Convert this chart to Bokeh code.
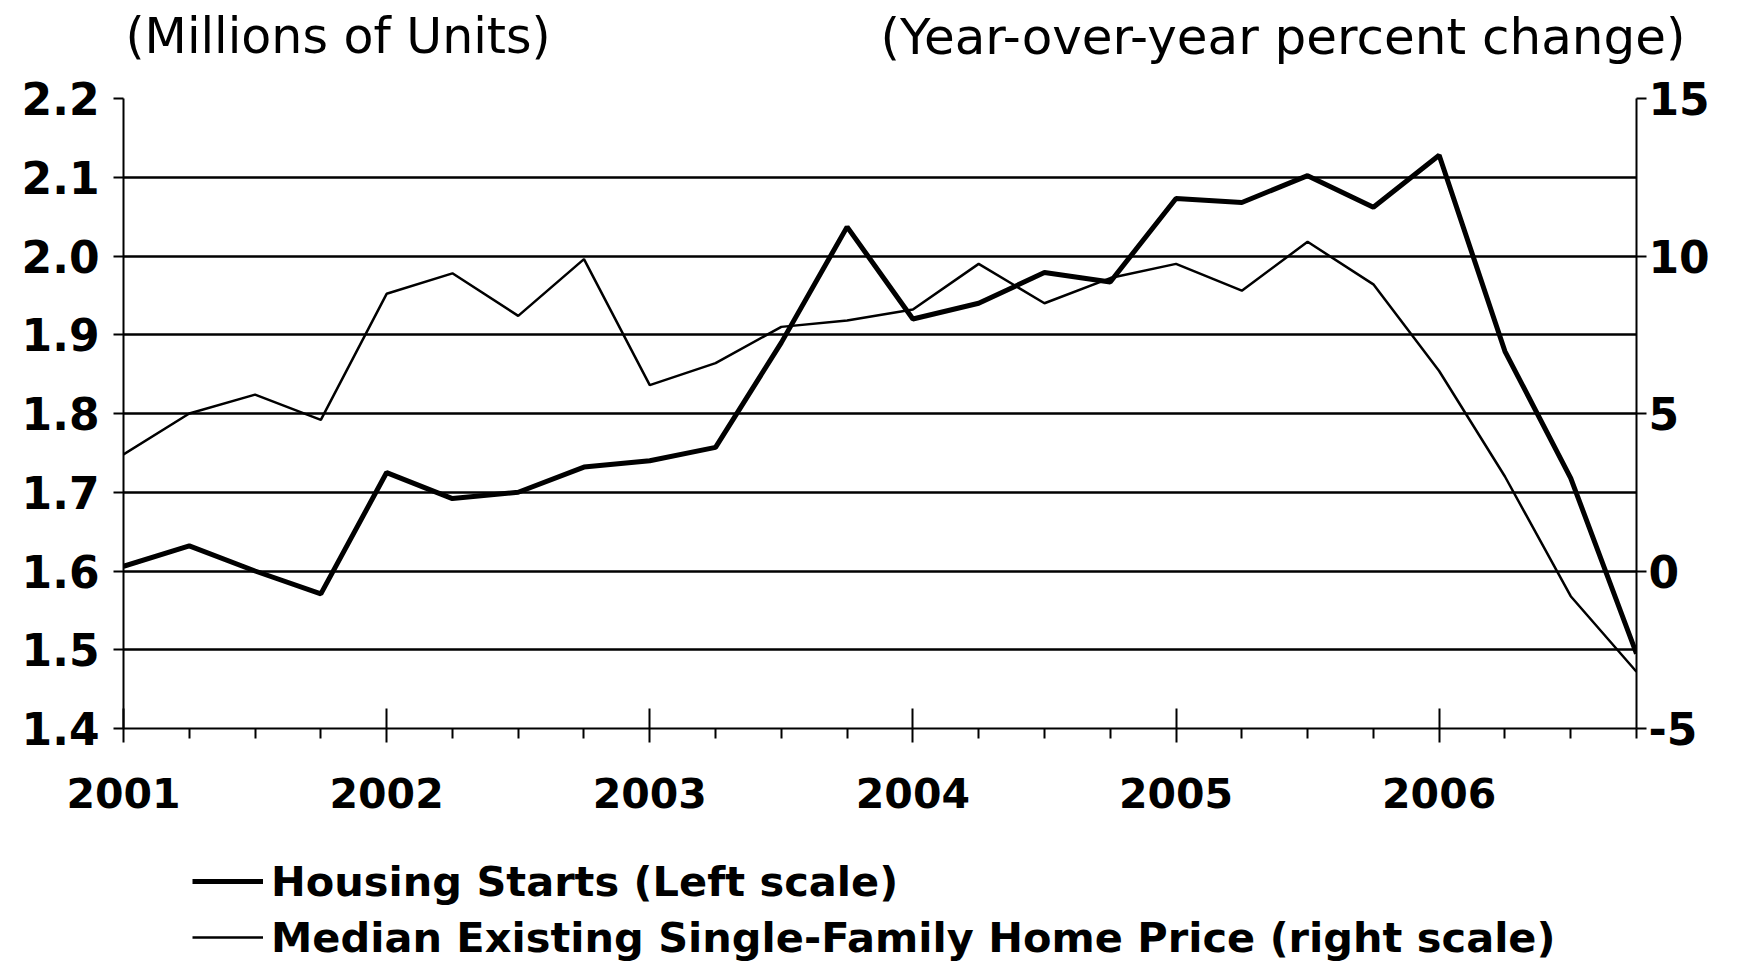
from bokeh.plotting import figure
from bokeh.layouts import column
from bokeh.models import (Range1d, LinearAxis, FixedTicker, PrintfTickFormatter,
                          Label, Legend, LegendItem)
from bokeh.embed import file_html
from bokeh.resources import INLINE

# Quarterly observations, 2001Q1 .. 2006Q4 (decimal years)
quarters = [2001.00, 2001.25, 2001.50, 2001.75,
            2002.00, 2002.25, 2002.50, 2002.75,
            2003.00, 2003.25, 2003.50, 2003.75,
            2004.00, 2004.25, 2004.50, 2004.75,
            2005.00, 2005.25, 2005.50, 2005.75,
            2006.00, 2006.25, 2006.50, 2006.75]

# Housing starts, millions of units (left scale)
housing_starts = [1.606, 1.632, 1.600, 1.571,
                  1.725, 1.692, 1.700, 1.732,
                  1.740, 1.757, 1.890, 2.037,
                  1.920, 1.940, 1.979, 1.967,
                  2.073, 2.068, 2.102, 2.062,
                  2.128, 1.879, 1.718, 1.495]

# Median existing single-family home price, y/y % change (right scale)
price_change = [3.7, 5.0, 5.6, 4.8,
                8.8, 9.45, 8.1, 9.9,
                5.9, 6.6, 7.75, 7.95,
                8.3, 9.75, 8.5, 9.3,
                9.75, 8.9, 10.45, 9.1,
                6.35, 3.0, -0.8, -3.2]

year_ticks = [2001, 2002, 2003, 2004, 2005, 2006]
quarter_ticks = [2001.25, 2001.5, 2001.75, 2002.25, 2002.5, 2002.75,
                 2003.25, 2003.5, 2003.75, 2004.25, 2004.5, 2004.75,
                 2005.25, 2005.5, 2005.75, 2006.25, 2006.5, 2006.75]
left_ticks = [1.4, 1.5, 1.6, 1.7, 1.8, 1.9, 2.0, 2.1, 2.2]
right_ticks = [-5, 0, 5, 10, 15]

left_title = "(Millions of Units)"
right_title = "(Year-over-year percent change)"
legend_labels = ["Housing Starts (Left scale)",
                 "Median Existing Single-Family Home Price (right scale)"]

FONT = "DejaVu Sans"
W = 1740
HEAD_H = 68
TOP = 30
MAIN_H = TOP + 630 + 100
FOOT_H = 963 - HEAD_H - MAIN_H


def blank(height):
    f = figure(width=W, height=height, x_range=Range1d(0, W), y_range=Range1d(0, height),
               x_axis_type=None, y_axis_type=None, output_backend="svg",
               toolbar_location=None, min_border=0, frame_align=False)
    f.outline_line_color = None
    f.grid.visible = False
    f.background_fill_color = "white"
    f.border_fill_color = "white"
    return f


# ---------- header strip with the two unit titles ----------
head = blank(HEAD_H)
head.add_layout(Label(x=125, y=HEAD_H - 36, text=left_title, text_font=FONT,
                      text_font_size="49px", text_align="left",
                      text_baseline="middle", text_color="black"))
head.add_layout(Label(x=1685, y=HEAD_H - 36, text=right_title, text_font=FONT,
                      text_font_size="50px", text_align="right",
                      text_baseline="middle", text_color="black"))

# ---------- main chart ----------
p = figure(width=W, height=MAIN_H,
           x_range=Range1d(2001, 2006.75), y_range=Range1d(1.4, 2.2),
           output_backend="svg", toolbar_location=None, frame_align=False,
           min_border_left=123, min_border_right=W - 1636,
           min_border_top=TOP, min_border_bottom=MAIN_H - TOP - 630)
p.background_fill_color = "white"
p.border_fill_color = "white"
p.outline_line_color = None

p.extra_y_ranges = {"pct": Range1d(-5, 15)}

xa = p.xaxis[0]
xa.ticker = FixedTicker(ticks=year_ticks, minor_ticks=quarter_ticks)
xa.axis_line_width = 2
xa.axis_line_color = "black"
xa.major_tick_in = 20
xa.major_tick_out = 14
xa.minor_tick_in = 0
xa.minor_tick_out = 10
xa.major_tick_line_width = 2
xa.minor_tick_line_width = 2
xa.major_tick_line_color = "black"
xa.minor_tick_line_color = "black"
xa.major_label_text_font = FONT
xa.major_label_text_font_style = "bold"
xa.major_label_text_font_size = "41px"
xa.major_label_text_color = "black"
xa.major_label_standoff = 35

ya = p.yaxis[0]
ya.ticker = FixedTicker(ticks=left_ticks)
ya.formatter = PrintfTickFormatter(format="%.1f")
ya.axis_line_width = 2
ya.axis_line_color = "black"
ya.major_tick_in = 0
ya.major_tick_out = 10
ya.minor_tick_in = 0
ya.minor_tick_out = 0
ya.major_tick_line_width = 2
ya.major_tick_line_color = "black"
ya.major_label_text_font = FONT
ya.major_label_text_font_style = "bold"
ya.major_label_text_font_size = "44px"
ya.major_label_text_color = "black"
ya.major_label_standoff = 14

ra = LinearAxis(y_range_name="pct", ticker=FixedTicker(ticks=right_ticks),
                formatter=PrintfTickFormatter(format="%d"))
ra.axis_line_width = 2
ra.axis_line_color = "black"
ra.major_tick_in = 0
ra.major_tick_out = 10
ra.minor_tick_in = 0
ra.minor_tick_out = 0
ra.major_tick_line_width = 2
ra.major_tick_line_color = "black"
ra.major_label_text_font = FONT
ra.major_label_text_font_style = "bold"
ra.major_label_text_font_size = "44px"
ra.major_label_text_color = "black"
ra.major_label_standoff = 2
p.add_layout(ra, "right")

p.xgrid.visible = False
p.ygrid.grid_line_color = "black"
p.ygrid.grid_line_width = 2.5

HS_STYLE = dict(line_width=5, line_color="black")
PR_STYLE = dict(line_width=2.5, line_color="black")
p.line(quarters, housing_starts, **HS_STYLE)
p.line(quarters, price_change, y_range_name="pct", **PR_STYLE)

# ---------- footer strip with the legend ----------
foot = blank(FOOT_H)
# key renderers: a single off-canvas point each, only used for the legend swatches
k1 = foot.line([-100], [-100], **HS_STYLE)
k2 = foot.line([-100], [-100], **PR_STYLE)
legend = Legend(items=[LegendItem(label=legend_labels[0], renderers=[k1]),
                       LegendItem(label=legend_labels[1], renderers=[k2])],
                location=(192, FOOT_H - 133.5), orientation="vertical")
legend.label_text_font = FONT
legend.label_text_font_style = "bold"
legend.label_text_font_size = "41.5px"
legend.label_text_color = "black"
legend.glyph_width = 71
legend.glyph_height = 48
legend.label_height = 48
legend.spacing = 7
legend.padding = 0
legend.margin = 0
legend.label_standoff = 8
legend.border_line_color = None
legend.background_fill_alpha = 0
foot.add_layout(legend)

layout = column(head, p, foot, spacing=0)
open("out.html", "w").write(file_html(layout, INLINE))
